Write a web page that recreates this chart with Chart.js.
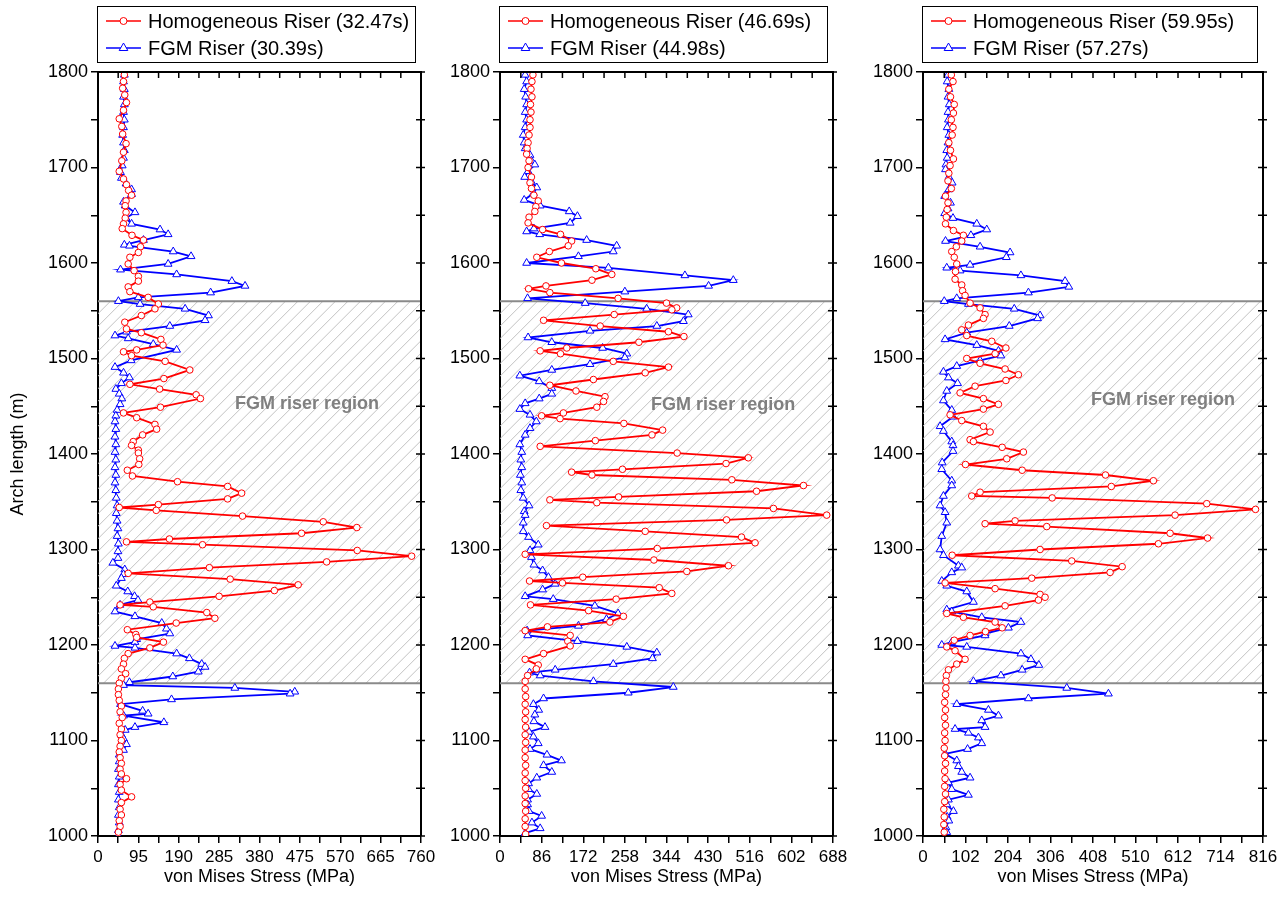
<!DOCTYPE html>
<html>
<head>
<meta charset="utf-8">
<script src="https://cdn.jsdelivr.net/npm/chart.js@4.4.1/dist/chart.umd.min.js"></script>
<style>
  body { margin: 0; background: #fff; width: 1288px; height: 916px; position: relative; overflow: hidden; }
  canvas { position: absolute; top: 0; }
</style>
</head>
<body>
<canvas id="c1" style="left:0px;width:440px;height:916px" width="440" height="916"></canvas>
<canvas id="c2" style="left:440px;width:430px;height:916px" width="430" height="916"></canvas>
<canvas id="c3" style="left:870px;width:418px;height:916px" width="418" height="916"></canvas>
<script>
// [arch length (m), von Mises stress (MPa)]
const homo1 = [[1797,62],[1790,60],[1783,58],[1776,63],[1768,67],[1760,60],[1751,50],[1743,56],[1735,58],[1725,66],
  [1716,60],[1707,56],[1696,50],[1688,60],[1682,67],[1676,72],[1671,79],[1665,66],[1660,64],[1653,66],
  [1647,64],[1641,60],[1636,57],[1629,80],[1624,107],[1617,100],[1611,95],[1606,75],[1599,71],[1592,85],
  [1586,95],[1581,95],[1575,71],[1570,75],[1564,118],[1557,142],[1552,134],[1545,102],[1538,63],[1531,67],
  [1527,102],[1520,148],[1514,153],[1509,91],[1507,60],[1503,79],[1497,158],[1488,216],[1479,155],[1473,75],
  [1468,145],[1462,231],[1458,241],[1449,147],[1443,60],[1438,91],[1431,134],[1426,138],[1420,105],[1413,83],
  [1409,79],[1404,95],[1401,95],[1395,98],[1389,96],[1383,69],[1377,81],[1371,187],[1366,305],[1359,338],
  [1353,305],[1347,142],[1344,50],[1341,137],[1335,340],[1329,530],[1323,609],[1317,479],[1311,168],[1308,67],
  [1305,246],[1299,610],[1293,738],[1287,538],[1281,262],[1275,71],[1269,311],[1263,471],[1257,415],[1251,285],
  [1245,122],[1242,52],[1240,130],[1234,256],[1228,275],[1223,184],[1216,69],[1211,89],[1208,91],[1203,154],
  [1197,122],[1191,71],[1186,62],[1180,60],[1175,55],[1170,65],[1165,55],[1160,50],[1154,48],[1148,48],
  [1142,50],[1136,55],[1130,52],[1124,57],[1118,50],[1112,55],[1106,52],[1100,55],[1094,52],[1088,50],
  [1082,52],[1076,55],[1070,52],[1065,55],[1060,67],[1054,52],[1048,55],[1041,79],[1035,55],[1028,52],
  [1022,55],[1016,50],[1010,52],[1004,48]]
const fgm1 = [[1797,62],[1790,60],[1782,62],[1774,60],[1766,62],[1758,60],[1750,62],[1742,60],[1734,58],[1726,60],
  [1718,62],[1710,60],[1702,57],[1695,53],[1689,55],[1683,66],[1677,79],[1672,79],[1664,60],[1660,64],
  [1653,87],[1647,66],[1641,79],[1635,146],[1630,165],[1624,107],[1619,62],[1618,74],[1612,177],[1607,219],
  [1599,165],[1593,53],[1588,185],[1581,315],[1576,346],[1569,265],[1564,95],[1560,48],[1557,99],[1552,205],
  [1545,260],[1540,252],[1534,169],[1528,67],[1524,40],[1521,71],[1515,130],[1509,185],[1498,78],[1491,40],
  [1485,60],[1480,74],[1474,55],[1468,42],[1463,50],[1458,56],[1452,52],[1446,45],[1440,42],[1434,40],
  [1426,42],[1418,40],[1410,42],[1402,40],[1394,42],[1386,40],[1378,42],[1370,40],[1362,42],[1354,43],
  [1346,45],[1338,43],[1330,45],[1322,47],[1314,45],[1306,48],[1298,47],[1291,47],[1286,35],[1279,63],
  [1274,60],[1270,55],[1262,43],[1256,70],[1251,86],[1247,94],[1242,52],[1235,40],[1230,87],[1223,150],
  [1217,161],[1212,169],[1206,91],[1203,87],[1199,40],[1197,87],[1191,185],[1186,215],[1180,244],[1177,252],
  [1172,236],[1167,176],[1161,74],[1158,60],[1155,322],[1151,463],[1149,452],[1143,173],[1138,53],[1131,105],
  [1128,118],[1126,60],[1119,155],[1114,87],[1111,64],[1106,55],[1102,60],[1096,67],[1090,60],[1085,50],
  [1078,50],[1070,48],[1062,50],[1054,48],[1046,50],[1038,48],[1030,50],[1022,48],[1014,50],[1006,48],[1000,48]]

const homo2 = [[1797,68],[1790,66],[1782,64],[1774,66],[1766,63],[1758,64],[1750,62],[1742,62],[1734,60],[1726,58],
  [1720,56],[1714,55],[1707,60],[1700,58],[1690,65],[1684,62],[1678,65],[1671,70],[1665,79],[1659,74],
  [1654,72],[1648,60],[1642,58],[1635,88],[1630,125],[1623,148],[1618,141],[1612,102],[1606,76],[1600,127],
  [1594,198],[1588,231],[1582,190],[1576,95],[1573,59],[1569,103],[1563,244],[1558,344],[1553,365],[1551,355],
  [1546,236],[1540,90],[1534,207],[1528,348],[1523,380],[1517,287],[1511,138],[1508,83],[1505,125],[1497,234],
  [1491,348],[1485,300],[1478,193],[1472,103],[1466,157],[1460,217],[1455,214],[1449,200],[1443,131],[1440,86],
  [1437,124],[1432,256],[1425,336],[1420,314],[1414,197],[1408,83],[1401,366],[1396,513],[1390,467],[1384,253],
  [1381,148],[1378,190],[1373,479],[1367,627],[1361,530],[1355,245],[1352,103],[1349,200],[1343,565],[1336,675],
  [1331,468],[1325,96],[1319,300],[1313,499],[1307,527],[1301,325],[1295,52],[1289,318],[1283,472],[1277,386],
  [1271,171],[1267,61],[1265,129],[1260,329],[1254,355],[1248,240],[1242,63],[1236,183],[1230,255],[1224,227],
  [1219,98],[1215,52],[1210,145],[1204,140],[1199,145],[1191,90],[1185,52],[1179,79],[1175,75],[1168,57],
  [1162,52],[1154,52],[1146,53],[1138,52],[1130,53],[1122,52],[1114,53],[1106,52],[1098,53],[1090,52],
  [1082,52],[1074,53],[1066,52],[1058,52],[1050,53],[1042,52],[1034,52],[1026,53],[1018,52],[1010,52],[1002,53]]
const fgm2 = [[1797,52],[1790,55],[1782,50],[1774,53],[1766,55],[1758,52],[1750,55],[1742,52],[1734,48],[1726,50],
  [1720,52],[1713,62],[1707,65],[1703,72],[1696,58],[1690,51],[1685,65],[1679,76],[1673,69],[1666,50],
  [1660,83],[1654,143],[1649,160],[1642,145],[1636,70],[1633,55],[1630,82],[1624,179],[1618,241],[1612,234],
  [1607,162],[1600,55],[1595,224],[1587,382],[1582,482],[1576,431],[1570,258],[1563,57],[1558,176],[1552,303],
  [1546,389],[1539,379],[1534,324],[1529,186],[1522,58],[1517,107],[1511,212],[1505,262],[1501,258],[1494,186],
  [1488,107],[1482,41],[1476,81],[1469,107],[1463,107],[1458,81],[1453,52],[1447,41],[1441,62],[1434,75],
  [1427,62],[1420,52],[1410,41],[1402,45],[1394,43],[1386,45],[1378,42],[1370,45],[1362,43],[1354,48],
  [1346,60],[1340,50],[1336,52],[1328,48],[1319,48],[1313,59],[1305,79],[1299,62],[1292,65],[1284,70],
  [1278,88],[1271,100],[1264,114],[1258,88],[1251,52],[1248,110],[1241,196],[1233,244],[1227,220],[1220,162],
  [1215,56],[1210,57],[1204,160],[1198,262],[1192,324],[1186,315],[1180,234],[1174,114],[1171,61],[1168,83],
  [1162,193],[1156,358],[1150,265],[1144,90],[1138,69],[1132,80],[1127,72],[1120,70],[1114,93],[1109,60],
  [1104,69],[1097,79],[1091,62],[1085,97],[1079,127],[1074,90],[1067,107],[1061,76],[1055,59],[1049,59],
  [1044,76],[1038,57],[1033,57],[1026,60],[1021,86],[1014,66],[1008,83],[1003,52]]

const homo3 = [[1797,68],[1790,72],[1782,62],[1774,66],[1766,75],[1757,73],[1750,68],[1742,72],[1734,70],[1726,62],
  [1718,66],[1709,73],[1702,65],[1694,62],[1686,60],[1678,68],[1670,54],[1663,60],[1656,58],[1648,56],
  [1641,54],[1634,73],[1629,97],[1623,93],[1617,80],[1612,69],[1606,75],[1599,81],[1591,78],[1583,77],
  [1577,93],[1571,95],[1566,101],[1558,113],[1553,137],[1546,149],[1542,145],[1535,109],[1530,93],[1524,105],
  [1518,165],[1511,199],[1505,173],[1500,105],[1495,137],[1489,197],[1483,229],[1477,199],[1471,125],[1464,89],
  [1458,145],[1452,181],[1447,145],[1441,65],[1435,93],[1429,145],[1423,161],[1415,113],[1413,121],[1407,190],
  [1402,241],[1395,201],[1389,102],[1383,238],[1378,438],[1372,553],[1366,452],[1360,137],[1356,117],[1354,310],
  [1348,681],[1342,798],[1336,605],[1330,221],[1327,149],[1324,297],[1317,593],[1312,683],[1306,565],[1300,281],
  [1294,70],[1288,357],[1282,478],[1276,449],[1270,261],[1265,53],[1259,173],[1253,281],[1250,293],[1247,277],
  [1241,197],[1233,57],[1229,97],[1224,173],[1218,190],[1214,150],[1210,113],[1205,75],[1198,57],[1194,77],
  [1185,101],[1180,81],[1174,61],[1168,56],[1162,55],[1155,55],[1148,54],[1140,52],[1132,54],[1124,52],
  [1116,54],[1108,52],[1100,53],[1092,51],[1084,52],[1076,54],[1068,52],[1060,53],[1052,52],[1044,54],
  [1036,52],[1028,50],[1020,51],[1012,50],[1004,51]]
const fgm3 = [[1797,60],[1790,58],[1782,62],[1774,60],[1766,63],[1758,60],[1750,61],[1742,58],[1734,62],[1726,60],
  [1718,57],[1710,58],[1703,55],[1698,54],[1690,62],[1684,70],[1677,62],[1670,52],[1663,66],[1657,60],
  [1652,52],[1647,72],[1641,129],[1635,153],[1629,115],[1623,54],[1617,137],[1611,209],[1606,200],[1598,113],
  [1595,57],[1592,89],[1587,235],[1581,341],[1575,350],[1569,253],[1563,81],[1560,51],[1557,109],[1552,219],
  [1545,281],[1542,275],[1534,207],[1527,105],[1520,53],[1514,129],[1508,181],[1503,187],[1498,137],[1492,81],
  [1486,49],[1480,61],[1474,83],[1466,57],[1456,49],[1446,69],[1439,72],[1429,41],[1424,49],[1413,69],
  [1409,72],[1403,72],[1391,46],[1384,45],[1372,69],[1367,69],[1356,49],[1346,41],[1339,53],[1328,57],
  [1314,45],[1300,41],[1294,49],[1283,85],[1281,93],[1276,69],[1267,45],[1262,57],[1256,105],[1245,121],
  [1237,57],[1235,69],[1229,141],[1224,235],[1218,205],[1212,149],[1210,149],[1203,69],[1200,45],[1198,105],
  [1191,235],[1185,259],[1179,278],[1174,238],[1168,187],[1162,121],[1155,345],[1149,445],[1144,253],[1138,81],
  [1132,157],[1126,181],[1121,141],[1114,149],[1112,77],[1108,109],[1103,133],[1097,141],[1091,107],[1086,53],
  [1079,81],[1073,85],[1067,93],[1061,113],[1056,61],[1049,69],[1043,109],[1038,61],[1033,57],[1026,73],
  [1020,58],[1016,62],[1009,55],[1004,57]]

const homoLabels = ['Homogeneous Riser (32.47s)', 'Homogeneous Riser (46.69s)', 'Homogeneous Riser (59.95s)']
const fgmLabels = ['FGM Riser (30.39s)', 'FGM Riser (44.98s)', 'FGM Riser (57.27s)']
const xMaxes = [760, 688, 816]
const xMajor = [95, 86, 102]
const archMin = 1000, archMax = 1800
const regionBottom = 1160, regionTop = 1560
const regionLabel = 'FGM riser region'
const regionLabelPos = [[492, 1452], [461, 1451], [576, 1456]]

const FONT = '"Liberation Sans", Arial, Helvetica, sans-serif'
Chart.defaults.font.family = FONT
Chart.defaults.color = '#000'

function drawMarker(ctx, style, x, y, r, color) {
  ctx.beginPath()
  if (style === 'circle') {
    ctx.arc(x, y, r, 0, Math.PI * 2)
  } else {
    ctx.moveTo(x, y - r)
    ctx.lineTo(x + r * 0.866, y + r * 0.5)
    ctx.lineTo(x - r * 0.866, y + r * 0.5)
    ctx.closePath()
  }
  ctx.fillStyle = '#fff'
  ctx.fill()
  ctx.lineWidth = 1
  ctx.strokeStyle = color
  ctx.stroke()
}

// hatched region, frame, mirrored ticks and boxed legend
const panelPlugin = {
  id: 'panel',
  beforeDatasetsDraw(chart, args, opts) {
    const { ctx, chartArea: a, scales: { x, y } } = chart
    const top = y.getPixelForValue(regionTop)
    const bot = y.getPixelForValue(regionBottom)
    ctx.save()
    ctx.beginPath()
    ctx.rect(a.left, top, a.right - a.left, bot - top)
    ctx.clip()
    ctx.strokeStyle = '#c2c2c2'
    ctx.lineWidth = 1
    const h = bot - top
    for (let sx = a.left - h; sx < a.right; sx += 12.5) {
      ctx.beginPath()
      ctx.moveTo(sx, bot)
      ctx.lineTo(sx + h, top)
      ctx.stroke()
    }
    ctx.restore()
    ctx.save()
    ctx.strokeStyle = '#8a8a8a'
    ctx.lineWidth = 2
    ;[top, bot].forEach(py => {
      ctx.beginPath()
      ctx.moveTo(a.left, py)
      ctx.lineTo(a.right, py)
      ctx.stroke()
    })
    ctx.font = 'bold 18px ' + FONT
    ctx.fillStyle = '#808080'
    ctx.textAlign = 'center'
    ctx.textBaseline = 'middle'
    ctx.fillText(regionLabel, x.getPixelForValue(opts.labelX), y.getPixelForValue(opts.labelY))
    ctx.restore()
  },
  afterDraw(chart) {
    const { ctx, chartArea: a, scales: { x, y } } = chart
    ctx.save()
    ctx.strokeStyle = '#000'
    ctx.lineWidth = 1.5
    x.ticks.forEach(t => {
      const px = x.getPixelForValue(t.value)
      ctx.beginPath()
      ctx.moveTo(px, a.top)
      ctx.lineTo(px, a.top + 6)
      ctx.stroke()
    })
    y.ticks.forEach(t => {
      const py = y.getPixelForValue(t.value)
      ctx.beginPath()
      ctx.moveTo(a.right - 5, py)
      ctx.lineTo(a.right + 4, py)
      ctx.stroke()
    })
    ctx.lineWidth = 2
    ctx.beginPath()
    ctx.moveTo(a.left, a.top)
    ctx.lineTo(a.right, a.top)
    ctx.lineTo(a.right, a.bottom)
    ctx.stroke()

    // legend box
    const lx = a.left - 1, rx = a.right - 6
    ctx.lineWidth = 1
    ctx.strokeRect(lx + 0.5, 6.5, rx - lx, 56)
    chart.data.datasets.forEach((ds, i) => {
      const yy = 21 + i * 27
      ctx.strokeStyle = ds.borderColor
      ctx.lineWidth = 1.6
      ctx.beginPath()
      ctx.moveTo(lx + 9, yy)
      ctx.lineTo(lx + 44, yy)
      ctx.stroke()
      drawMarker(ctx, ds.pointStyle, lx + 26.5, yy, ds.pointStyle === 'circle' ? 3.5 : 5, ds.borderColor)
      ctx.fillStyle = '#000'
      ctx.font = '20px ' + FONT
      ctx.textAlign = 'left'
      ctx.textBaseline = 'middle'
      ctx.fillText(ds.label, lx + 51, yy + 1)
    })
    ctx.restore()
  }
}

const layouts = [
  { id: 'c1', padL: 3, yw: 95, padR: 19, yTitle: true },
  { id: 'c2', padL: 5, yw: 55, padR: 37, yTitle: false },
  { id: 'c3', padL: 3, yw: 50, padR: 25, yTitle: false }
]
const homoSets = [homo1, homo2, homo3]
const fgmSets = [fgm1, fgm2, fgm3]

function isMajor(v, step) {
  const k = v / step
  return Math.abs(k - Math.round(k)) < 1e-6
}

layouts.forEach((L, i) => {
  const toXY = arr => arr.map(p => ({ x: p[1], y: p[0] }))
  new Chart(document.getElementById(L.id), {
    type: 'scatter',
    plugins: [panelPlugin],
    data: {
      datasets: [
        {
          label: homoLabels[i],
          data: toXY(homoSets[i]),
          showLine: true,
          borderColor: '#ff0000',
          backgroundColor: '#ffffff',
          borderWidth: 1.8,
          tension: 0,
          pointStyle: 'circle',
          pointRadius: 3.3,
          pointBorderWidth: 1,
          pointBackgroundColor: '#ffffff',
          pointBorderColor: '#ff0000'
        },
        {
          label: fgmLabels[i],
          data: toXY(fgmSets[i]),
          showLine: true,
          borderColor: '#0000ff',
          backgroundColor: '#ffffff',
          borderWidth: 1.8,
          tension: 0,
          pointStyle: 'triangle',
          pointRadius: 4.5,
          pointBorderWidth: 1,
          pointBackgroundColor: '#ffffff',
          pointBorderColor: '#0000ff'
        }
      ]
    },
    options: {
      responsive: false,
      animation: false,
      events: [],
      layout: { padding: { left: L.padL, right: L.padR, top: 72, bottom: 24 } },
      plugins: {
        legend: { display: false },
        tooltip: { enabled: false },
        panel: { labelX: regionLabelPos[i][0], labelY: regionLabelPos[i][1] }
      },
      scales: {
        x: {
          type: 'linear',
          position: 'bottom',
          min: 0,
          max: xMaxes[i],
          afterFit(s) { s.height = 56 },
          ticks: {
            stepSize: xMajor[i] / 2,
            autoSkip: false,
            maxRotation: 0,
            padding: 4,
            color: '#000',
            font: { size: 17 },
            callback: v => isMajor(v, xMajor[i]) ? String(Math.round(v)) : ''
          },
          grid: { drawOnChartArea: false, drawTicks: true, tickLength: 7, color: '#000', lineWidth: 1.5 },
          border: { display: true, color: '#000', width: 2 },
          title: { display: true, text: 'von Mises Stress (MPa)', color: '#000', font: { size: 18 } }
        },
        y: {
          type: 'linear',
          position: 'left',
          min: archMin,
          max: archMax,
          afterFit(s) { s.width = L.yw },
          ticks: {
            stepSize: 50,
            autoSkip: false,
            padding: 3,
            color: '#000',
            font: { size: 18 },
            callback: v => isMajor(v, 100) ? String(v) : ''
          },
          grid: { drawOnChartArea: false, drawTicks: true, tickLength: 7, color: '#000', lineWidth: 1.5 },
          border: { display: true, color: '#000', width: 2 },
          title: { display: L.yTitle, text: 'Arch length (m)', color: '#000', font: { size: 18 } }
        }
      }
    }
  })
})
</script>
</body>
</html>
